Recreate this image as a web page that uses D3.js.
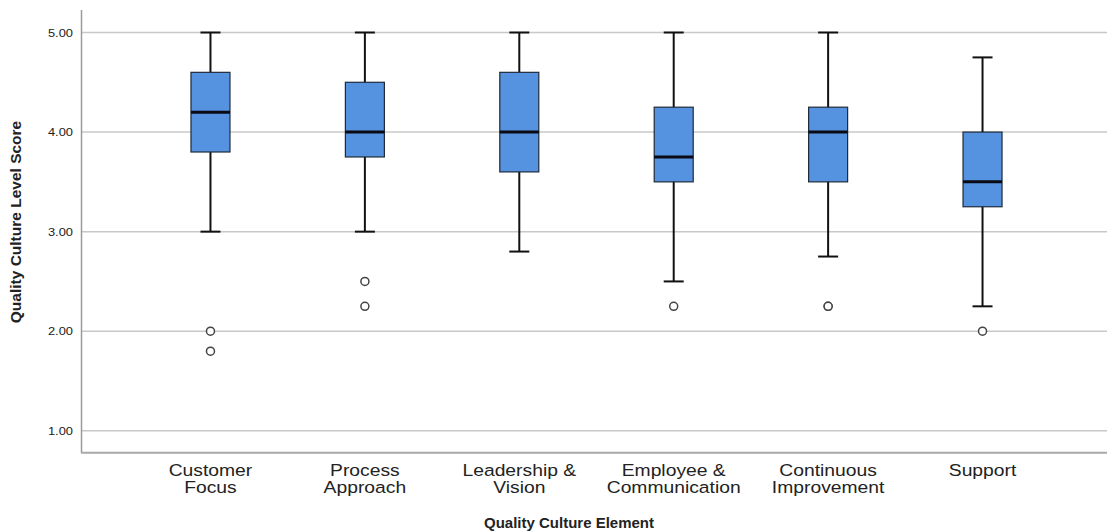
<!DOCTYPE html>
<html>
<head>
<meta charset="utf-8">
<script src="https://cdn.jsdelivr.net/npm/d3@7"></script>
<style>
  body { margin: 0; background: #fff; }
  text { font-family: "Liberation Sans", Arial, sans-serif; fill: #222; }
</style>
</head>
<body>
<div id="chartArea"></div>
<script>
// categories and five-number summaries
var categories = ['Customer Focus', 'Process Approach', 'Leadership & Vision',
                  'Employee & Communication', 'Continuous Improvement', 'Support'];
var labelLines = [['Customer', 'Focus'], ['Process', 'Approach'], ['Leadership &', 'Vision'],
                  ['Employee &', 'Communication'], ['Continuous', 'Improvement'], ['Support']];
var whiskerLow  = [3.00, 3.00, 2.80, 2.50, 2.75, 2.25];
var q1          = [3.80, 3.75, 3.60, 3.50, 3.50, 3.25];
var median      = [4.20, 4.00, 4.00, 3.75, 4.00, 3.50];
var q3          = [4.60, 4.50, 4.60, 4.25, 4.25, 4.00];
var whiskerHigh = [5.00, 5.00, 5.00, 5.00, 5.00, 4.75];
var outliers    = [[2.00, 1.80], [2.50, 2.25], [], [2.25], [2.25, 2.25], [2.00]];
var yTicks = [1, 2, 3, 4, 5];

function chartBox() {
    var width = 1107, height = 532;
    var left = 82, right = 1111, top = 10, bottom = 452.7;
    var stretch = 1.17; // source picture text is a bit wide

    var data = categories.map(function(c, i) {
        return {cat: c, lo: whiskerLow[i], q1: q1[i], med: median[i], q3: q3[i],
                hi: whiskerHigh[i], out: outliers[i], lines: labelLines[i]};
    });

    var x = d3.scalePoint().domain(categories).range([left, right]).padding(0.832);
    var y = d3.scaleLinear().domain([0.78, 5.226]).range([bottom, top]);
    var boxW = 39, capW = 20;

    var svg = d3.select('#chartArea').append('svg')
        .attr('width', width).attr('height', height);

    // gridlines
    svg.append('g').selectAll('line').data(yTicks).enter().append('line')
        .attr('x1', left).attr('x2', width)
        .attr('y1', function(d){ return y(d); }).attr('y2', function(d){ return y(d); })
        .attr('stroke', '#c8c8c8').attr('stroke-width', 1.5);

    // y tick labels
    svg.append('g').selectAll('text').data(yTicks).enter().append('text')
        .attr('transform', function(d){ return 'translate(73,' + (y(d) + 4) + ') scale(' + stretch + ',1)'; })
        .attr('text-anchor', 'end')
        .style('font-size', '11px')
        .text(function(d){ return d3.format('.2f')(d); });

    // axis lines
    svg.append('line').attr('x1', left - 0.5).attr('x2', left - 0.5).attr('y1', top).attr('y2', bottom)
        .attr('stroke', '#9a9a9a').attr('stroke-width', 1.5);
    svg.append('line').attr('x1', left - 1).attr('x2', width).attr('y1', bottom).attr('y2', bottom)
        .attr('stroke', '#a8a8a8').attr('stroke-width', 2);

    var g = svg.append('g').selectAll('g').data(data).enter().append('g')
        .attr('transform', function(d){ return 'translate(' + x(d.cat) + ',0)'; });

    // whiskers
    g.append('line').attr('x1', 0).attr('x2', 0)
        .attr('y1', function(d){ return y(d.hi); }).attr('y2', function(d){ return y(d.lo); })
        .attr('stroke', '#111').attr('stroke-width', 2);
    g.append('line').attr('x1', -capW / 2).attr('x2', capW / 2)
        .attr('y1', function(d){ return y(d.hi); }).attr('y2', function(d){ return y(d.hi); })
        .attr('stroke', '#111').attr('stroke-width', 2);
    g.append('line').attr('x1', -capW / 2).attr('x2', capW / 2)
        .attr('y1', function(d){ return y(d.lo); }).attr('y2', function(d){ return y(d.lo); })
        .attr('stroke', '#111').attr('stroke-width', 2);

    // boxes
    g.append('rect').attr('x', -boxW / 2).attr('width', boxW)
        .attr('y', function(d){ return y(d.q3); })
        .attr('height', function(d){ return y(d.q1) - y(d.q3); })
        .attr('fill', '#5592e0').attr('stroke', '#1f2a3a').attr('stroke-width', 1.2);

    // medians
    g.append('line').attr('x1', -boxW / 2).attr('x2', boxW / 2)
        .attr('y1', function(d){ return y(d.med); }).attr('y2', function(d){ return y(d.med); })
        .attr('stroke', '#0a0a14').attr('stroke-width', 3);

    // outliers
    g.selectAll('circle').data(function(d){ return d.out; }).enter().append('circle')
        .attr('cx', 0).attr('cy', function(d){ return y(d); }).attr('r', 4)
        .attr('fill', '#fff').attr('stroke', '#444').attr('stroke-width', 1.5);

    // category labels
    var lab = g.append('text')
        .attr('transform', 'translate(0,476) scale(' + stretch + ',1)')
        .attr('text-anchor', 'middle')
        .style('font-size', '16.5px');
    lab.selectAll('tspan').data(function(d){ return d.lines; }).enter().append('tspan')
        .attr('x', 0).attr('dy', function(d, i){ return i === 0 ? 0 : 17; })
        .text(function(d){ return d; });

    // axis titles
    svg.append('text')
        .attr('transform', 'translate(569,528)')
        .attr('text-anchor', 'middle')
        .style('font-size', '15px').style('font-weight', 'bold')
        .text('Quality Culture Element');
    svg.append('text')
        .attr('transform', 'translate(21,222) rotate(-90)')
        .attr('text-anchor', 'middle')
        .style('font-size', '15.5px').style('font-weight', 'bold')
        .text('Quality Culture Level Score');
}
chartBox();
</script>
</body>
</html>
